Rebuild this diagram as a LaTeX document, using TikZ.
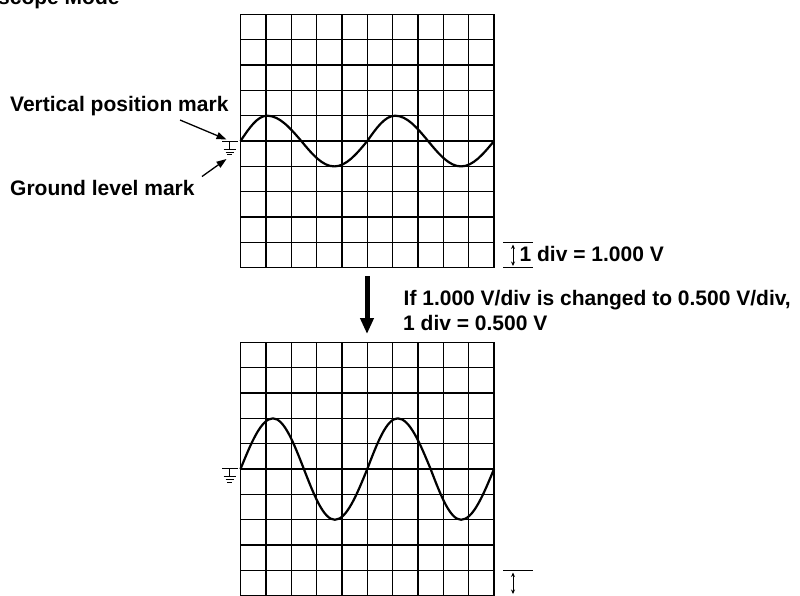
\documentclass[tikz,border=0pt]{standalone}
\usepackage{fontspec}
\setmainfont{Liberation Sans}
\usetikzlibrary{arrows.meta}
\begin{document}
\begin{tikzpicture}[x=1pt,y=-1pt,
  lbl/.style={font=\fontsize{21}{25}\selectfont\bfseries, inner sep=0pt, anchor=base west},
  gridline/.style={line width=1.3pt},
  wave/.style={line width=2.2pt, line join=round},
  pointer/.style={line width=1.3pt, -{Triangle[length=10pt,width=7pt]}},
  bigarrow/.style={line width=5pt, -{Triangle[length=16pt,width=13pt]}},
  tickline/.style={line width=1.2pt},
  dimarrow/.style={line width=0.9pt, {Stealth[length=4.5pt,width=4pt]}-{Stealth[length=4.5pt,width=4pt]}},
  gnd/.style={line width=1pt}]
\useasboundingbox (0,0) rectangle (800,595);
\fill[white] (0,0) rectangle (800,595);

% title (cut off at the top)
\node[lbl] (title) at (-2,4) {scope Mode};

% ---------- top screen ----------
\begin{scope}[shift={(240.5,14.3)}, x=25.35pt, y=-25.35pt]
  \foreach \i in {0,...,10} {
    \draw[gridline] (\i,0) -- (\i,10);
    \draw[gridline] (0,\i) -- (10,\i);
  }
  \draw[wave] (0,5) sin (1.05,4) cos (2.4,5) sin (3.7,6) cos (5,5)
              sin (6.1,4) cos (7.4,5) sin (8.7,6) cos (10,5);
\end{scope}

% ground mark, top screen
\begin{scope}[shift={(0,141)}]
  \draw[gnd] (222,0) -- (237.5,0);
  \draw[gnd] (229.5,0) -- (229.5,8.5);
  \draw[gnd] (223.5,8.5) -- (235.5,8.5);
  \draw[gnd] (225.5,11.2) -- (233.5,11.2);
  \draw[gnd] (227.3,13.9) -- (231.7,13.9);
\end{scope}

% labels and pointers
\node[lbl] (vpm) at (10,111) {Vertical position mark};
\node[lbl] (glm) at (10,195) {Ground level mark};
\coordinate (vpmstart) at (180,120);
\coordinate (vpmtip) at (226.5,139.5);
\coordinate (glmstart) at (202,176.5);
\coordinate (glmtip) at (226.5,159);
\draw[pointer] (vpmstart) -- (vpmtip);
\draw[pointer] (glmstart) -- (glmtip);

% 1 div marker, top
\coordinate (t1a) at (503,242.6);
\coordinate (t1b) at (533,242.6);
\coordinate (t2a) at (503,267.8);
\coordinate (t2b) at (533,267.8);
\draw[tickline] (t1a) -- (t1b);
\draw[tickline] (t2a) -- (t2b);
\coordinate (d1) at (513,244.5);
\coordinate (d2) at (513,266);
\draw[dimarrow] (d1) -- (d2);
\node[lbl] (div1) at (519.4,261.7) {1 div = 1.000 V};

% big arrow and explanation
\coordinate (ba1) at (367,276);
\coordinate (ba2) at (367,334);
\draw[bigarrow] (ba1) -- (ba2);
\node[lbl] (ifline) at (403.5,305) {If 1.000 V/div is changed to 0.500 V/div,};
\node[lbl] (div2) at (403,330) {1 div = 0.500 V};

% ---------- bottom screen ----------
\begin{scope}[shift={(240.5,342.3)}, x=25.35pt, y=-25.35pt]
  \foreach \i in {0,...,10} {
    \draw[gridline] (\i,0) -- (\i,10);
    \draw[gridline] (0,\i) -- (10,\i);
  }
  \draw[wave] (0,5) sin (1.28,3) cos (2.5,5) sin (3.72,7) cos (5,5)
              sin (6.2,3) cos (7.5,5) sin (8.7,7) cos (10,5);
\end{scope}

% ground mark, bottom screen
\begin{scope}[shift={(0,468.3)}]
  \draw[gnd] (222,0) -- (237.5,0);
  \draw[gnd] (229.5,0) -- (229.5,8.5);
  \draw[gnd] (223.5,8.5) -- (235.5,8.5);
  \draw[gnd] (225.5,11.2) -- (233.5,11.2);
  \draw[gnd] (227.3,13.9) -- (231.7,13.9);
\end{scope}

% 1 div marker, bottom (cut off)
\coordinate (b1a) at (503,570.5);
\coordinate (b1b) at (533,570.5);
\draw[tickline] (b1a) -- (b1b);
\coordinate (bd1) at (513,572.5);
\coordinate (bd2) at (513,594);
\draw[dimarrow] (bd1) -- (bd2);
\end{tikzpicture}
\end{document}
